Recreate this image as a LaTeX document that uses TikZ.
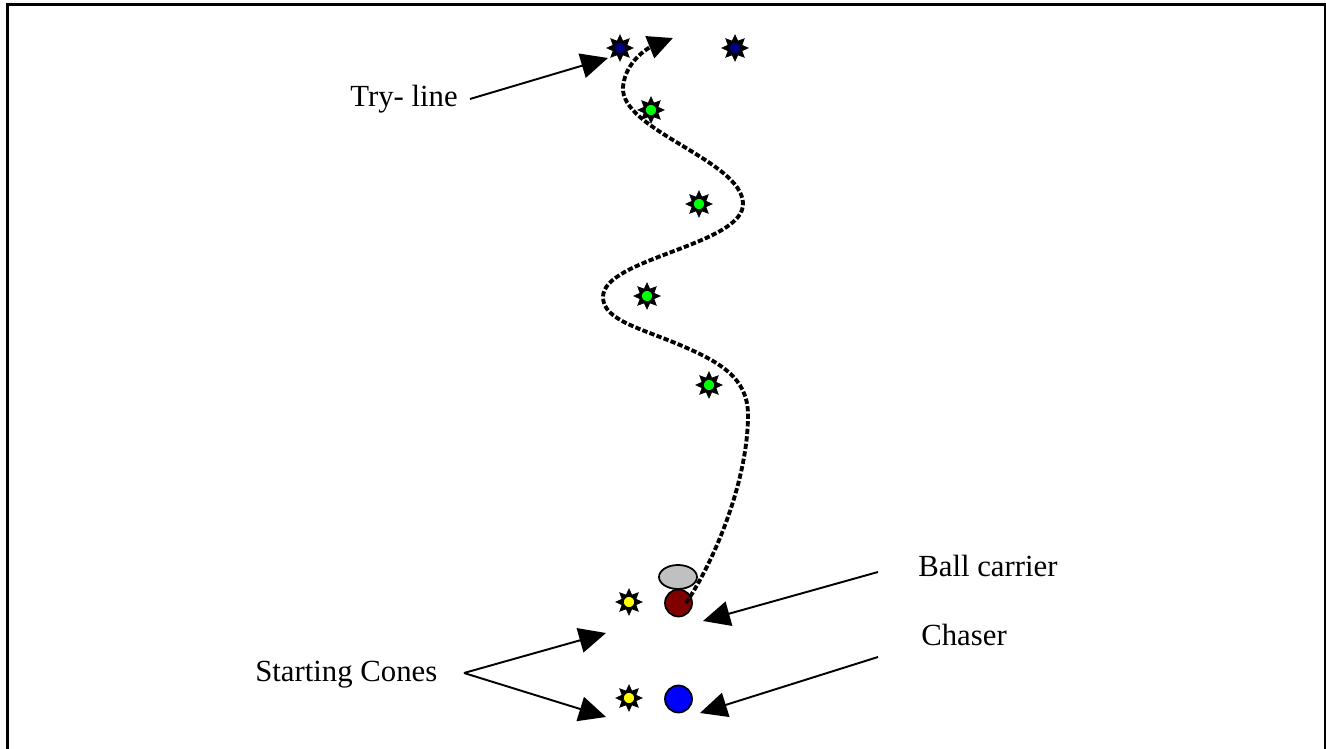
\documentclass[tikz,border=0pt]{standalone}
\usepackage{fontspec}
\setmainfont{Liberation Serif}
\usetikzlibrary{arrows.meta,shapes.geometric}
\definecolor{navystar}{HTML}{000080}
\definecolor{greenstar}{HTML}{00FF00}
\definecolor{yellowstar}{HTML}{FFFF00}
\definecolor{carrier}{HTML}{800000}
\definecolor{ballgray}{HTML}{C0C0C0}
\definecolor{chaserblue}{HTML}{0000FF}
\tikzset{
  lbl/.style={anchor=base west, inner sep=0pt, font=\fontsize{17.5}{20}\selectfont},
  arr/.style={line width=1.1pt, -{Triangle[length=0.54cm,width=0.5cm]}},
  runpath/.style={line width=2.2pt, dash pattern=on 3pt off 1.3pt, -{Triangle[length=0.5cm,width=0.46cm]}},
  conestar/.style={star, star points=8, star point ratio=1.75, minimum size=0.52cm, inner sep=0pt, fill=black, draw=black},
  conedot/.style={circle, minimum size=0.23cm, inner sep=0pt, draw=black, line width=0.6pt, fill=#1},
  player/.style={circle, minimum size=0.54cm, inner sep=0pt, draw=black, line width=1pt, fill=#1}
}
\newcommand{\cone}[3]{%
  \node[conestar] (#1) at (#2) {};
  \node[conedot=#3] (#1dot) at (#2) {};
}
\begin{document}
\begin{tikzpicture}[x=0.02cm,y=-0.02cm]
\useasboundingbox (0,0) rectangle (1326,749);
\fill[white] (0,0) rectangle (1326,749);
% frame
\draw[line width=1.7pt] (7.5,749) -- (7.5,5) -- (1325,5) -- (1325,749);

% cones
\cone{try1}{620,48}{navystar}
\cone{try2}{735,48}{navystar}
\cone{g1}{651,110}{greenstar}
\cone{g2}{699,204}{greenstar}
\cone{g3}{647,296}{greenstar}
\cone{g4}{709,385}{greenstar}
\cone{y1}{629,602}{yellowstar}
\cone{y2}{629,698}{yellowstar}

% players
\node[ellipse, minimum width=0.76cm, minimum height=0.48cm, inner sep=0pt, draw=black, line width=1pt, fill=ballgray] (ball) at (678,577) {};
\node[player=carrier] (carrier) at (678.5,603) {};
\node[player=chaserblue] (chaser) at (678.5,699) {};

% run path
\coordinate (runstart) at (686,603);
\coordinate (runend) at (673,38);
\draw[runpath] (runstart) .. controls (715,560) and (748,480) .. (748,415)
  .. controls (748,378) and (720,362) .. (680,345)
  .. controls (640,328) and (603,320) .. (603,297)
  .. controls (603,258) and (745,245) .. (743,203)
  .. controls (741,160) and (620,130) .. (623,87)
  .. controls (625,62) and (648,48) .. (runend);

% labels
\node[lbl] (tryline) at (350,107) {Try- line};
\node[lbl] (starting) at (255,682) {Starting Cones};
\node[lbl] (ballcarrier) at (918,577) {Ball carrier};
\node[lbl] (chaserlbl) at (921,646) {Chaser};

% label arrows
\coordinate (tlstart) at (470,99);
\coordinate (tltip) at (608,58);
\coordinate (scstart) at (464,673);
\coordinate (sctip1) at (606,633);
\coordinate (sctip2) at (606,717);
\coordinate (bcstart) at (878,572);
\coordinate (bctip) at (703,621);
\coordinate (chstart) at (878,657);
\coordinate (chtip) at (700,713);
\draw[arr] (tlstart) -- (tltip);
\draw[arr] (scstart) -- (sctip1);
\draw[arr] (scstart) -- (sctip2);
\draw[arr] (bcstart) -- (bctip);
\draw[arr] (chstart) -- (chtip);
\end{tikzpicture}
\end{document}
